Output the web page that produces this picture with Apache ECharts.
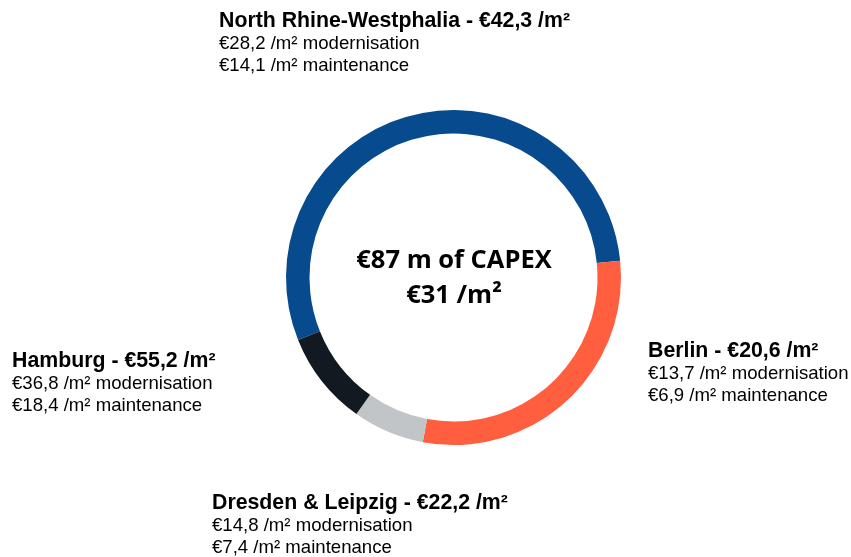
<!DOCTYPE html>
<html>
<head>
<meta charset="utf-8">
<script src="https://cdn.jsdelivr.net/npm/echarts@6/dist/echarts.min.js"></script>
<style>
  html, body { margin: 0; padding: 0; background: #fff; }
  #myChart { width: 851px; height: 557px; }
</style>
</head>
<body>
<div id="myChart"></div>
<script>
  // regions, clockwise from the left end of the blue arc
  var regions = ['North Rhine-Westphalia', 'Berlin', 'Dresden & Leipzig', 'Hamburg'];
  // share of the €87 m CAPEX
  var capexShare = [47.4, 25.7, 6.0, 7.9];
  var totalPerM2 = ['€42,3', '€20,6', '€22,2', '€55,2'];
  var modernisation = ['€28,2', '€13,7', '€14,8', '€36,8'];
  var maintenance = ['€14,1', '€6,9', '€7,4', '€18,4'];
  var colors = ['#074b8e', '#ff5f3f', '#c1c5c7', '#121920'];
  var centerLines = ['€87 m of CAPEX', '€31 /m²'];

  // where each label block sits (title middle line)
  var labelPos = [[219, 21], [648, 351], [212, 503], [12, 361]];

  var myChart = echarts.init(document.getElementById('myChart'));

  var ff = '"Liberation Sans", Arial, sans-serif';
  var graphics = [];
  regions.forEach(function (name, i) {
    var x = labelPos[i][0], y = labelPos[i][1];
    graphics.push({
      type: 'text', x: x, y: y,
      style: { text: name + ' - ' + totalPerM2[i] + ' /m²', fontFamily: ff, fontSize: 21.3, fontWeight: 'bold', fill: '#000', verticalAlign: 'middle' }
    });
    graphics.push({
      type: 'text', x: x, y: y + 23,
      style: { text: modernisation[i] + ' /m² modernisation', fontFamily: ff, fontSize: 18.6, fill: '#000', verticalAlign: 'middle' }
    });
    graphics.push({
      type: 'text', x: x, y: y + 45,
      style: { text: maintenance[i] + ' /m² maintenance', fontFamily: ff, fontSize: 18.6, fill: '#000', verticalAlign: 'middle' }
    });
  });
  // centre text
  var cf = '"Open Sans", "Noto Sans", sans-serif';
  graphics.push({
    type: 'text', x: 454, y: 261,
    style: { text: centerLines[0], fontFamily: cf, fontSize: 25.5, fontWeight: 'bold', fill: '#000', align: 'center', verticalAlign: 'middle' }
  });
  graphics.push({
    type: 'text', x: 454, y: 296,
    style: { text: centerLines[1], fontFamily: cf, fontSize: 25.5, fontWeight: 'bold', fill: '#000', align: 'center', verticalAlign: 'middle' }
  });

  var option = {
    animation: false,
    color: colors,
    graphic: graphics,
    series: [{
      type: 'pie',
      silent: true,
      center: [453.5, 277.5],
      radius: [144, 167.5],
      startAngle: 201.9,
      clockwise: true,
      label: { show: false },
      labelLine: { show: false },
      itemStyle: { borderWidth: 0 },
      data: regions.map(function (n, i) { return { name: n, value: capexShare[i] }; })
    }]
  };

  myChart.setOption(option);
</script>
</body>
</html>
